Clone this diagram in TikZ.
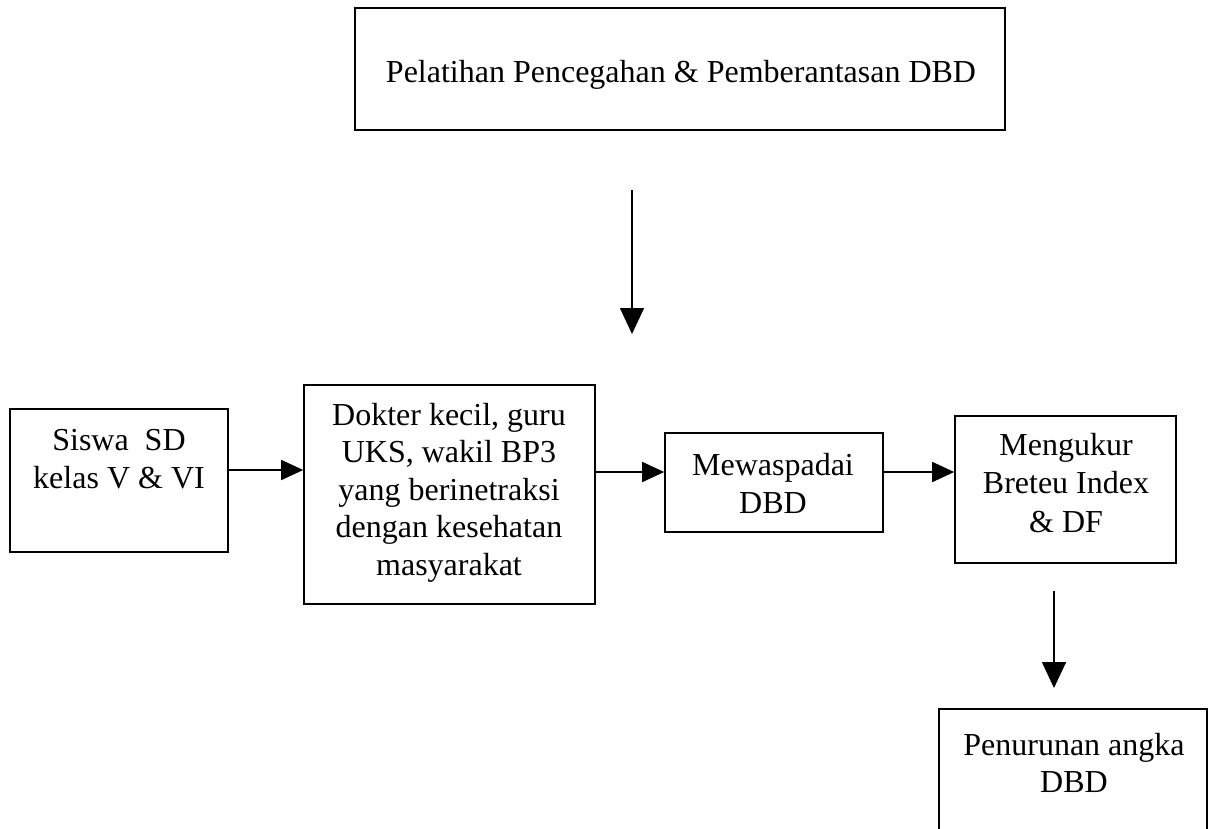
\documentclass[tikz,border=0pt]{standalone}
\usepackage{fontspec}
\setmainfont{Liberation Serif}
\usetikzlibrary{arrows.meta}
\newcommand\firststrut{\rule{0pt}{25pt}}
\begin{document}
\begin{tikzpicture}[x=1pt,y=-1pt,
  box/.style={draw, line width=1.6pt, inner sep=0pt},
  txt/.style={align=center, inner sep=0pt, anchor=north, font=\fontsize{32}{38}\selectfont},
  arr/.style={line width=1.6pt, -{Triangle[length=26pt,width=24pt]}},
  harr/.style={line width=1.6pt, -{Triangle[length=22pt,width=20pt]}}]
\useasboundingbox (0,0) rectangle (1213,828);
\clip (0,0) rectangle (1213,828);
% boxes
\node[box, minimum width=650pt, minimum height=122pt] (top) at (680,69) {};
\node[txt] (toptxt) at (681,57) {\firststrut Pelatihan Pencegahan \& Pemberantasan DBD};
\node[box, minimum width=218pt, minimum height=143pt] (b1) at (119,480.5) {};
\node[txt] (b1txt) at (119,425) {\firststrut Siswa\ \ SD\\kelas V \& VI};
\node[box, minimum width=291pt, minimum height=219pt] (b2) at (449.5,494.5) {};
\node[txt, font=\fontsize{32}{37.5}\selectfont] (b2txt) at (449,400) {\firststrut Dokter kecil, guru\\UKS, wakil BP3\\yang berinetraksi\\dengan kesehatan\\masyarakat};
\node[box, minimum width=218pt, minimum height=99pt] (b3) at (774,482.5) {};
\node[txt] (b3txt) at (773,450) {\firststrut Mewaspadai\\DBD};
\node[box, minimum width=221pt, minimum height=147pt] (b4) at (1065.5,489.5) {};
\node[txt, font=\fontsize{32}{38.5}\selectfont] (b4txt) at (1066,430) {\firststrut Mengukur\\Breteu Index\\\& DF};
\node[box, minimum width=268pt, minimum height=140pt] (b5) at (1073,779) {};
\node[txt, font=\fontsize{32}{37}\selectfont] (b5txt) at (1074,730) {\firststrut Penurunan angka\\DBD};
% connectors
\coordinate (s0) at (632,190);
\coordinate (e0) at (632,334);
\draw[arr] (s0) -- (e0);
\draw[harr] (b1.east |- 0,470) -- (b2.west |- 0,470);
\draw[harr] (b2.east |- 0,472) -- (b3.west |- 0,472);
\draw[harr] (b3.east |- 0,472) -- (b4.west |- 0,472);
\coordinate (s4) at (1054,591);
\coordinate (e4) at (1054,688);
\draw[arr] (s4) -- (e4);
\end{tikzpicture}
\end{document}
